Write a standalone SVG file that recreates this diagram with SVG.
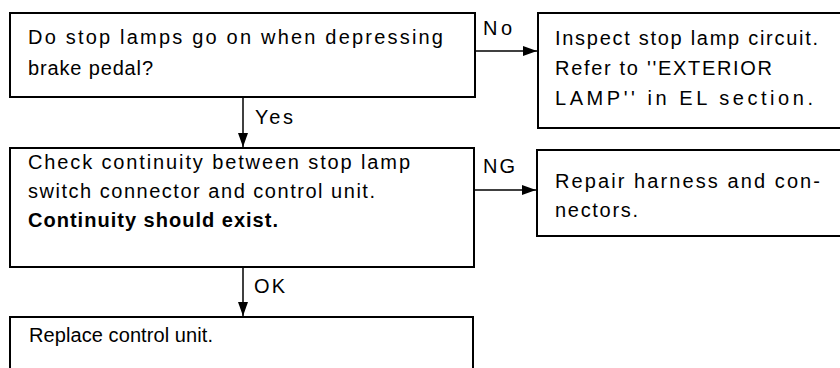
<svg xmlns="http://www.w3.org/2000/svg" width="840" height="368" viewBox="0 0 840 368">
  <style>
    .box { fill: #ffffff; stroke: #000000; stroke-width: 2; }
    .t { font-family: "Liberation Sans", Arial, sans-serif; font-size: 20px; fill: #000000; }
    .b { font-weight: bold; }
    .lbl { font-family: "Liberation Sans", Arial, sans-serif; font-size: 20px; fill: #000000; }
    .conn { stroke: #000000; stroke-width: 1.5; fill: none; }
  </style>
  <defs>
    <marker id="arrow" viewBox="0 0 14 10" refX="14" refY="5" markerWidth="14" markerHeight="10" markerUnits="userSpaceOnUse" orient="auto">
      <path d="M0,0 L14,5 L0,10 Z" fill="#000000"/>
    </marker>
  </defs>
  <rect width="840" height="368" fill="#ffffff"/>

  <g id="node-stop-lamps">
    <rect class="box" x="10" y="13" width="465" height="84"/>
    <text class="t" x="28" y="44" textLength="415" lengthAdjust="spacing">Do stop lamps go on when depressing</text>
    <text class="t" x="28" y="75" textLength="125" lengthAdjust="spacing">brake pedal?</text>
  </g>

  <g id="node-inspect">
    <rect class="box" x="538" y="13" width="310" height="115"/>
    <text class="t" x="555" y="45" textLength="263" lengthAdjust="spacing">Inspect stop lamp circuit.</text>
    <text class="t" x="555" y="75" textLength="217" lengthAdjust="spacing">Refer to ''EXTERIOR</text>
    <text class="t" x="555" y="105" textLength="258" lengthAdjust="spacing">LAMP'' in EL section.</text>
  </g>

  <g id="node-check">
    <rect class="box" x="10" y="148" width="464" height="119"/>
    <text class="t" x="28" y="169" textLength="382" lengthAdjust="spacing">Check continuity between stop lamp</text>
    <text class="t" x="28" y="198" textLength="347" lengthAdjust="spacing">switch connector and control unit.</text>
    <text class="t b" x="28" y="227" textLength="250" lengthAdjust="spacing">Continuity should exist.</text>
  </g>

  <g id="node-repair">
    <rect class="box" x="537" y="150" width="311" height="86"/>
    <text class="t" x="555" y="188" textLength="265" lengthAdjust="spacing">Repair harness and con-</text>
    <text class="t" x="555" y="217" textLength="83" lengthAdjust="spacing">nectors.</text>
  </g>

  <g id="node-replace">
    <rect class="box" x="10" y="317" width="463" height="60"/>
    <text class="t" x="29" y="342" textLength="184" lengthAdjust="spacing">Replace control unit.</text>
  </g>

  <g id="connectors">
    <line class="conn" x1="475" y1="51" x2="537" y2="51" marker-end="url(#arrow)"/>
    <text class="lbl" x="483" y="35" textLength="29" lengthAdjust="spacing">No</text>
    <line class="conn" x1="243" y1="97" x2="243" y2="147" marker-end="url(#arrow)"/>
    <text class="lbl" x="255" y="124" textLength="38" lengthAdjust="spacing">Yes</text>
    <line class="conn" x1="474" y1="190" x2="536" y2="190" marker-end="url(#arrow)"/>
    <text class="lbl" x="483" y="173" textLength="32" lengthAdjust="spacing">NG</text>
    <line class="conn" x1="243" y1="267" x2="243" y2="316" marker-end="url(#arrow)"/>
    <text class="lbl" x="254" y="293" textLength="31" lengthAdjust="spacing">OK</text>
  </g>
</svg>
